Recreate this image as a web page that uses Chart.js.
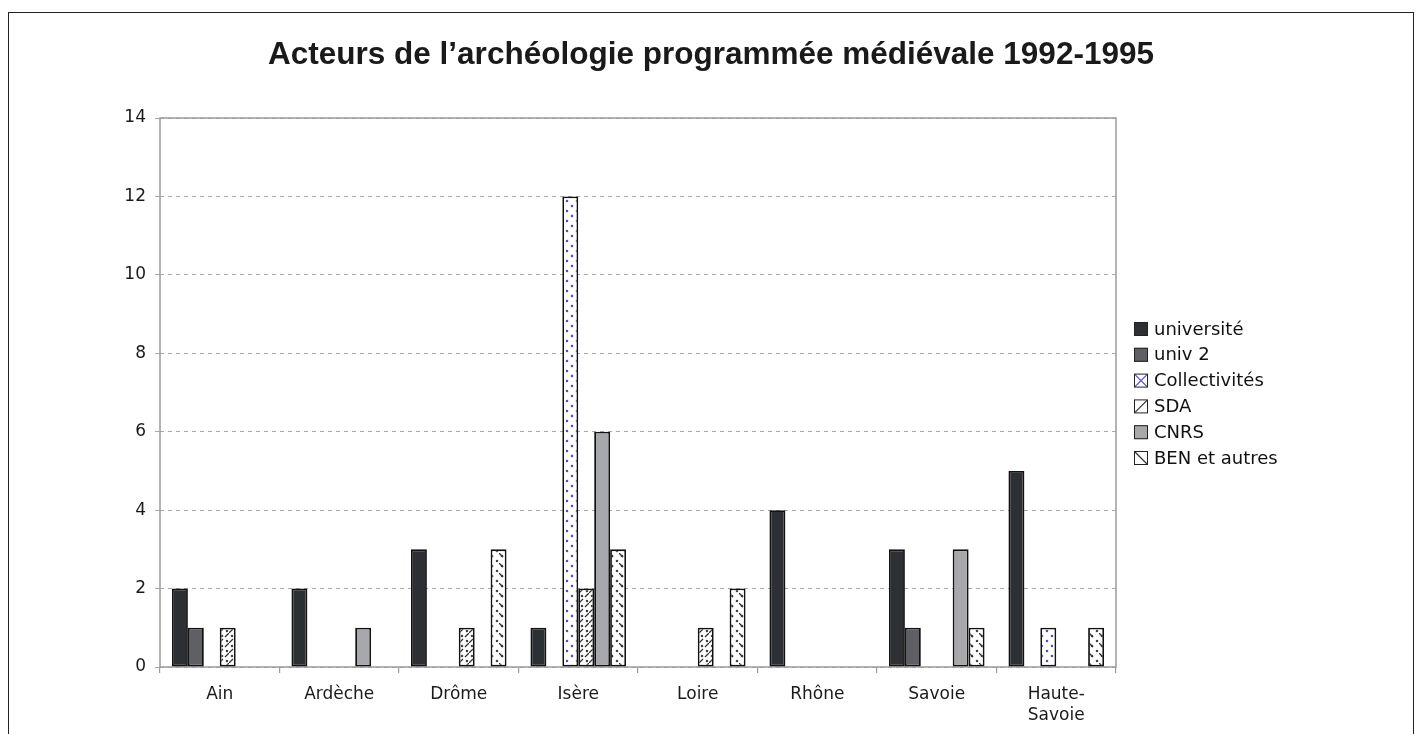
<!DOCTYPE html>
<html>
<head>
<meta charset="utf-8">
<script src="https://cdn.jsdelivr.net/npm/chart.js@4"></script>
<style>
  body { margin: 0; background: #fff; overflow: hidden; }
  #frame { position: absolute; left: 8px; top: 12px; width: 1404px; height: 760px; border: 1px solid #222; }
  canvas { display: block; }
</style>
</head>
<body>
<div id="frame"><canvas id="chart" width="1404" height="760"></canvas></div>
<script>
const chartTitle = 'Acteurs de l’archéologie programmée médiévale 1992-1995';
const categories = ['Ain', 'Ardèche', 'Drôme', 'Isère', 'Loire', 'Rhône', 'Savoie', ['Haute-', 'Savoie']];
const seriesNames = ['université', 'univ 2', 'Collectivités', 'SDA', 'CNRS', 'BEN et autres'];

const universite = [2, 2, 3, 1, 0, 4, 3, 5];
const univ2 = [1, 0, 0, 0, 0, 0, 1, 0];
const collectivites = [0, 0, 0, 12, 0, 0, 0, 1];
const sda = [1, 0, 1, 2, 1, 0, 0, 0];
const cnrs = [0, 1, 0, 6, 0, 0, 3, 0];
const benAutres = [0, 0, 3, 3, 2, 0, 1, 1];

const yMin = 0, yMax = 14, yStep = 2;

const ctx = document.getElementById('chart').getContext('2d');

// little tiles used as bar fills
function makePattern(dotColor, slash) {
  const c = document.createElement('canvas');
  c.width = 10; c.height = 10;
  const g = c.getContext('2d');
  g.fillStyle = '#fff';
  g.fillRect(0, 0, 10, 10);
  g.fillStyle = dotColor;
  g.beginPath();
  g.arc(3, 3, 1.3, 0, Math.PI * 2);
  g.arc(8, 8, 1.3, 0, Math.PI * 2);
  g.fill();
  if (slash) {
    g.strokeStyle = '#333';
    g.lineWidth = 1.3;
    g.beginPath();
    if (slash === '/') { g.moveTo(0, 10); g.lineTo(4, 6); g.moveTo(6, 4); g.lineTo(10, 0); }
    else { g.moveTo(0, 0); g.lineTo(4, 4); }
    g.stroke();
  }
  return ctx.createPattern(c, 'repeat');
}

const fills = [
  '#2c2f33',
  '#5f6065',
  makePattern('#4f4fc2', null),
  makePattern('#444', '/'),
  '#a6a8ab',
  makePattern('#444', '\\')
];
const legendMarks = ['', '', 'x', '/', '', '\\'];
const seriesData = [universite, univ2, collectivites, sda, cnrs, benAutres];

const plotFrame = {
  id: 'plotFrame',
  beforeDatasetsDraw(chart) {
    const a = chart.chartArea;
    const c = chart.ctx;
    c.save();
    c.strokeStyle = '#9a9b9e';
    c.lineWidth = 1.5;
    c.strokeRect(a.left, a.top, a.right - a.left, a.bottom - a.top);
    c.restore();
  }
};

const topTitle = {
  id: 'topTitle',
  afterDraw(chart) {
    const c = chart.ctx;
    c.save();
    c.font = 'bold 31.5px "Liberation Sans", Arial';
    c.fillStyle = '#1a1a1a';
    c.textAlign = 'center';
    c.textBaseline = 'alphabetic';
    c.fillText(chartTitle, chart.width / 2, 51);
    c.restore();
  }
};

const sideLegend = {
  id: 'sideLegend',
  afterDraw(chart) {
    const a = chart.chartArea;
    const c = chart.ctx;
    c.save();
    c.font = '18px "DejaVu Sans"';
    c.textBaseline = 'middle';
    chart.data.datasets.forEach((ds, i) => {
      const x = a.right + 18;
      const y = a.top + 211 + i * 25.8;
      const mark = legendMarks[i];
      c.fillStyle = mark ? '#fff' : ds.backgroundColor;
      c.fillRect(x, y - 7, 14, 14);
      if (mark) {
        c.strokeStyle = mark === 'x' ? '#4f4fc2' : '#333';
        c.lineWidth = 1.2;
        c.beginPath();
        if (mark === 'x' || mark === '/') { c.moveTo(x + 1, y + 6); c.lineTo(x + 13, y - 6); }
        if (mark === 'x' || mark === '\\') { c.moveTo(x + 1, y - 6); c.lineTo(x + 13, y + 6); }
        c.stroke();
      }
      c.strokeStyle = '#222';
      c.lineWidth = 1;
      c.strokeRect(x + 0.5, y - 6.5, 13, 13);
      c.fillStyle = '#111';
      c.fillText(ds.label, x + 20, y + 1);
    });
    c.restore();
  }
};

new Chart(ctx, {
  type: 'bar',
  data: {
    labels: categories,
    datasets: seriesNames.map((name, i) => ({
      label: name,
      data: seriesData[i],
      backgroundColor: fills[i],
      borderColor: '#111',
      borderWidth: c => (c.raw ? 1.8 : 0),
      borderSkipped: false,
      categoryPercentage: 0.8,
      barPercentage: 1.0
    }))
  },
  options: {
    responsive: false,
    animation: false,
    layout: { padding: { left: 91, right: 297, top: 105, bottom: 36 } },
    plugins: {
      legend: { display: false },
      tooltip: { enabled: false },
      title: { display: false }
    },
    scales: {
      x: {
        afterFit: s => { s.height = 70; },
        grid: { offset: true, drawOnChartArea: false, drawTicks: true, tickLength: 6, color: '#9a9b9e', lineWidth: 1.2 },
        border: { display: false },
        ticks: {
          color: '#1a1a1a',
          padding: 11,
          maxRotation: 0,
          autoSkip: false,
          font: { family: '"DejaVu Sans", Verdana', size: 17, lineHeight: 1.25 }
        }
      },
      y: {
        min: yMin,
        max: yMax,
        afterFit: s => { s.width = 60; },
        grid: { color: '#a8a9ac', lineWidth: 1, tickLength: 5 },
        border: { display: false, dash: [4, 4] },
        ticks: {
          stepSize: yStep,
          color: '#1a1a1a',
          padding: 9,
          font: { family: '"DejaVu Sans", Verdana', size: 17 }
        }
      }
    }
  },
  plugins: [plotFrame, topTitle, sideLegend]
});
</script>
</body>
</html>
